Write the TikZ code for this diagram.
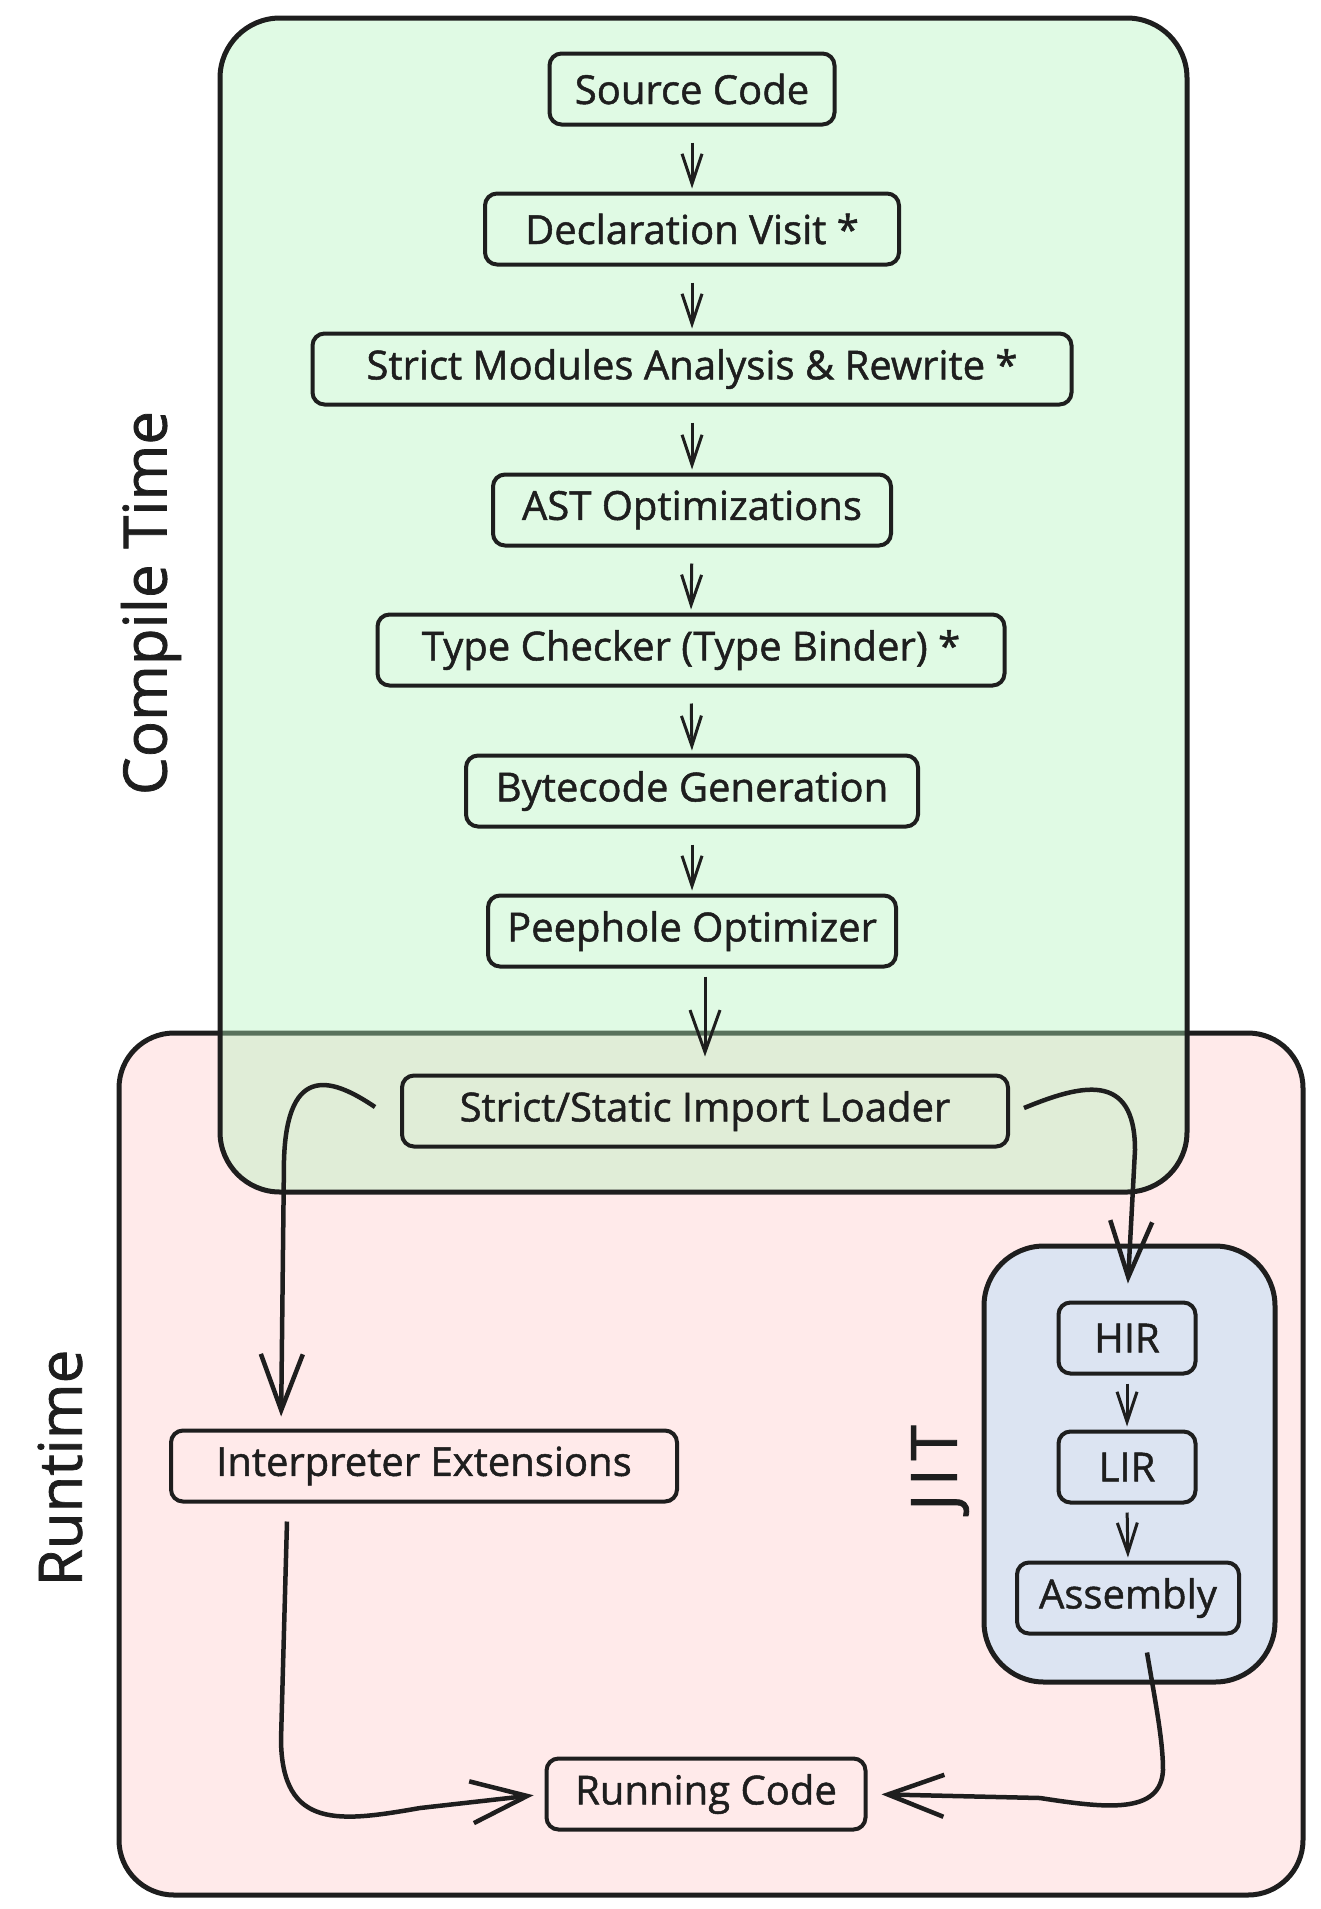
\documentclass[tikz,border=0pt]{standalone}
\usepackage{fontspec}
\setmainfont{Open Sans}[FakeBold=1.2]
\usetikzlibrary{arrows.meta}
\definecolor{ink}{HTML}{1E1E1E}
\definecolor{compilefill}{HTML}{B2F2BB}
\definecolor{runfill}{HTML}{FFEAEA}
\definecolor{jitfill}{HTML}{DCE4F2}
\tikzset{
  stage/.style={draw=ink, line width=4pt, rounded corners=12pt, inner xsep=12pt, minimum height=71pt, font=\fontsize{40}{48}\selectfont, text=ink},
  region/.style={draw=ink, line width=5pt},
  flow/.style={draw=ink, line width=3pt, -{Straight Barb[length=30pt,width=20pt]}},
  bigflow/.style={draw=ink, line width=4.5pt, -{Straight Barb[length=56pt,width=42pt]}},
  sidelabel/.style={rotate=90, font=\fontsize{60}{72}\selectfont, text=ink}
}

\begin{document}
\begin{tikzpicture}[x=1pt,y=-1pt]
\useasboundingbox (0,0) rectangle (1320,1909);
% regions
\draw[region, fill=runfill, rounded corners=55pt] (119,1033) rectangle (1303,1895);
\draw[region, fill=compilefill, fill opacity=0.4, rounded corners=60pt] (220,18) rectangle (1187,1192);
\draw[region, fill=jitfill, rounded corners=60pt] (984,1246) rectangle (1275,1682);
\node[sidelabel] (compile) at (151,603) {Compile Time};
\node[sidelabel] (runtime) at (60,1468) {Runtime};
\node[sidelabel, font=\fontsize{64}{72}\selectfont\addfontfeature{LetterSpace=12}] (jit) at (940,1468) {JIT};
% compile time stages
\node[stage, minimum width=285pt] (src) at (692,89) {Source Code};
\node[stage, minimum width=414pt] (decl) at (692,229) {Declaration Visit *};
\node[stage, minimum width=759pt] (smod) at (692,369) {Strict Modules Analysis \& Rewrite *};
\node[stage, minimum width=398pt] (ast) at (692,510) {AST Optimizations};
\node[stage, minimum width=627pt] (tc) at (691,650) {Type Checker (Type Binder) *};
\node[stage, minimum width=452pt] (bc) at (692,791) {Bytecode Generation};
\node[stage, minimum width=408pt] (peep) at (692,931) {Peephole Optimizer};
\node[stage, minimum width=606pt] (loader) at (705,1111) {Strict/Static Import Loader};
% runtime
\node[stage, minimum width=506pt] (interp) at (424,1466) {Interpreter Extensions};
\node[stage, minimum width=137pt] (hir) at (1127,1338) {HIR};
\node[stage, minimum width=137pt] (lir) at (1127,1467) {LIR};
\node[stage, minimum width=222pt] (asm) at (1128,1598) {Assembly};
\node[stage, minimum width=319pt] (run) at (706,1794) {Running Code};
% arrows
\foreach \a/\b in {src/decl, decl/smod, smod/ast, ast/tc, tc/bc, bc/peep}
  \draw[flow, shorten <=16pt, shorten >=3pt] (\a.south) -- (\b.north);
\foreach \a/\b in {hir/lir, lir/asm}
  \draw[flow, shorten <=8pt, shorten >=3pt] (\a.south) -- (\b.north);
\draw[flow, -{Straight Barb[length=42pt,width=30pt]}, shorten <=8pt, shorten >=17pt] (peep.south -| loader.north) -- (loader.north);
\draw[bigflow, shorten >=12pt] ([xshift=-25pt,yshift=4pt]loader.west) .. controls (335,1080) and (287,1060) .. (284,1160) -- ([xshift=-143pt]interp.north);
\draw[bigflow, shorten >=17pt] ([xshift=14pt,yshift=3pt]loader.east) .. controls (1080,1085) and (1135,1070) .. (1135,1150) -- (hir.north);
\draw[bigflow, shorten >=11pt] ([xshift=-137pt,yshift=-18pt]interp.south) -- (281,1740) .. controls (282,1830) and (340,1822) .. (420,1808) -- (run.west);
\draw[bigflow, shorten >=14pt] ([xshift=19pt,yshift=-17pt]asm.south) .. controls (1155,1700) and (1163,1740) .. (1163,1770) .. controls (1161,1815) and (1105,1808) .. (1040,1798) -- (run.east);
\end{tikzpicture}
\end{document}
